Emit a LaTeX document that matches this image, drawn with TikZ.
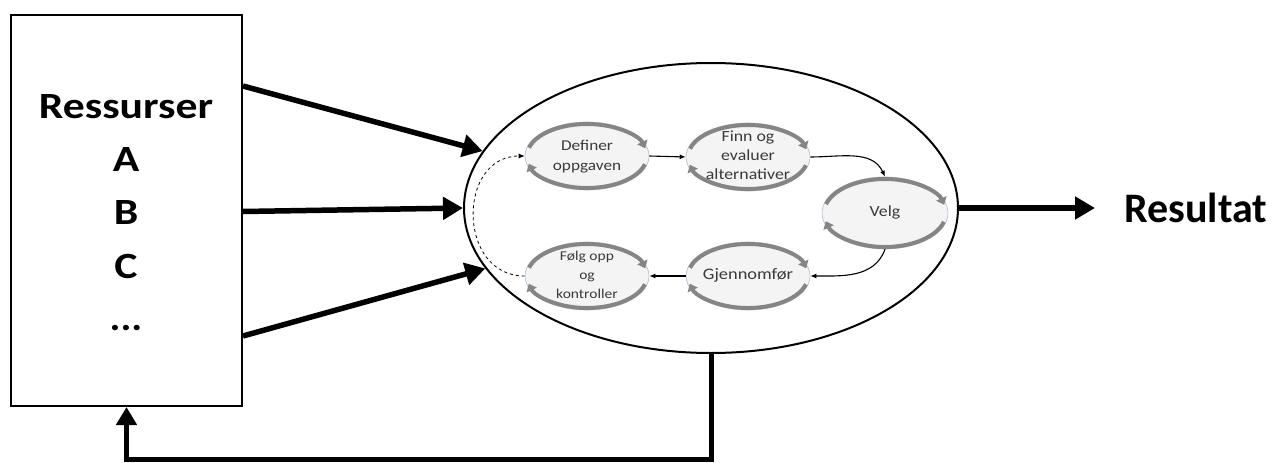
\documentclass[tikz,border=0pt]{standalone}
\usepackage{fontspec}
\usepackage{graphicx}
\setmainfont{Carlito}
\usetikzlibrary{arrows.meta,shapes.geometric,calc}
\definecolor{txtgray}{HTML}{3A3A3A}
\definecolor{ringgray}{HTML}{858585}
\definecolor{stepfill}{HTML}{F4F4F4}
\definecolor{stepline}{HTML}{A9BCD0}
\tikzset{
  bigarrow/.style={line width=5.5pt,-{Triangle[length=20pt,width=22pt]}},
  feedarrow/.style={line width=5pt,-{Triangle[length=18pt,width=20pt]}},
  bigtext/.style={font=\fontsize{37}{44}\selectfont\bfseries,inner sep=0pt,anchor=base},
  stepbox/.style={ellipse,draw=stepline,line width=0.6pt,fill=stepfill,
    minimum width=124pt,minimum height=68pt,inner sep=0pt},
  steptext/.style={inner sep=0pt,text=txtgray},
  ring/.style={draw=ringgray,line width=4pt,-{Triangle[length=7pt,width=11pt]}},
  smallarrow/.style={line width=1.1pt,-{Latex[length=6pt,width=5pt]}},
}
% wide-set text used inside the boxes and step ellipses
\newcommand{\widetext}[2]{\scalebox{#1}[1]{\begin{tabular}{@{}c@{}}#2\end{tabular}}}
\newcommand{\cyclering}[3]{%
  \draw[ring] ($(#1.center)+(165:#2 and #3)$) arc[start angle=165,end angle=14,x radius=#2,y radius=#3];
  \draw[ring] ($(#1.center)+(-15:#2 and #3)$) arc[start angle=-15,end angle=-166,x radius=#2,y radius=#3];}
\begin{document}
\begin{tikzpicture}[x=1pt,y=1pt]
\useasboundingbox (0,0) rectangle (1272,-463);

% resources box
\node[draw,line width=2pt,minimum width=231pt,minimum height=391pt,inner sep=0pt,anchor=north west] (res) at (10,-14) {};
\node[bigtext] (tr) at (126,-118) {\scalebox{1.18}[1]{Ressurser}};
\node[bigtext] (ta) at (126,-171) {\scalebox{1.18}[1]{A}};
\node[bigtext] (tb) at (126,-224) {\scalebox{1.18}[1]{B}};
\node[bigtext] (tc) at (126,-278) {\scalebox{1.18}[1]{C}};
\node[bigtext] (td) at (126,-330) {\scalebox{1.1}[1]{...}};

% process ellipse
\node[ellipse,draw,line width=2pt,minimum width=494pt,minimum height=290pt,inner sep=0pt] (proc) at (711,-208) {};

% inputs
\coordinate (o1) at ($(res.north east)+(0,-72)$);
\coordinate (o2) at ($(res.east)+(0,-1)$);
\coordinate (o3) at ($(res.north east)+(0,-322)$);
\draw[bigarrow] (o1) -- (proc.166);
\draw[bigarrow] (o2) -- (proc.west);
\draw[bigarrow] (o3) -- (proc.195);

% output
\node[font=\fontsize{42}{50}\selectfont\bfseries,inner sep=0pt,anchor=base west] (out) at (1124,-222) {Resultat};
\draw[bigarrow,shorten >=29pt] (proc.east) -- (out.west |- proc.east);

% feedback loop
\draw[feedarrow] (proc.south) -- ++(0,-105) -| (res.south);

% steps of the cycle
\node[stepbox] (def) at (587,-156) {};
\node[stepbox] (finn) at (748,-157) {};
\node[stepbox,minimum width=126pt,minimum height=72pt] (velg) at (885,-213) {};
\node[stepbox] (gjen) at (748,-276) {};
\node[stepbox] (folg) at (587,-276) {};

\cyclering{def}{60}{32}
\cyclering{finn}{60}{32}
\cyclering{velg}{61}{34}
\cyclering{gjen}{60}{32}
\cyclering{folg}{60}{32}

\node[steptext] (def-t) at (def.center) {\fontsize{15}{20}\selectfont\widetext{1.15}{Definer\\oppgaven}};
\node[steptext] (finn-t) at (finn.center) {\fontsize{15.5}{19}\selectfont\widetext{1.15}{Finn og\\evaluer\\alternativer}};
\node[steptext] (velg-t) at (velg.center) {\fontsize{15.5}{19}\selectfont\widetext{1.15}{Velg}};
\node[steptext] (gjen-t) at (gjen.center) {\fontsize{16}{19}\selectfont\widetext{1.15}{Gjennomfør}};
\node[steptext] (folg-t) at (folg.center) {\fontsize{13.5}{19}\selectfont\widetext{1.15}{Følg opp\\og\\kontroller}};

\draw[smallarrow] (def.east) -- (finn.west);
\draw[smallarrow] (finn.east) to[out=0,in=115] (velg.north);
\draw[smallarrow] (velg.south) to[out=-110,in=0] (gjen.east);
\draw[smallarrow] (gjen.west) -- (folg.east);
\draw[smallarrow,dashed,line width=0.8pt] (folg.west) to[out=180,in=180,looseness=1.45] (def.west);
\end{tikzpicture}
\end{document}
